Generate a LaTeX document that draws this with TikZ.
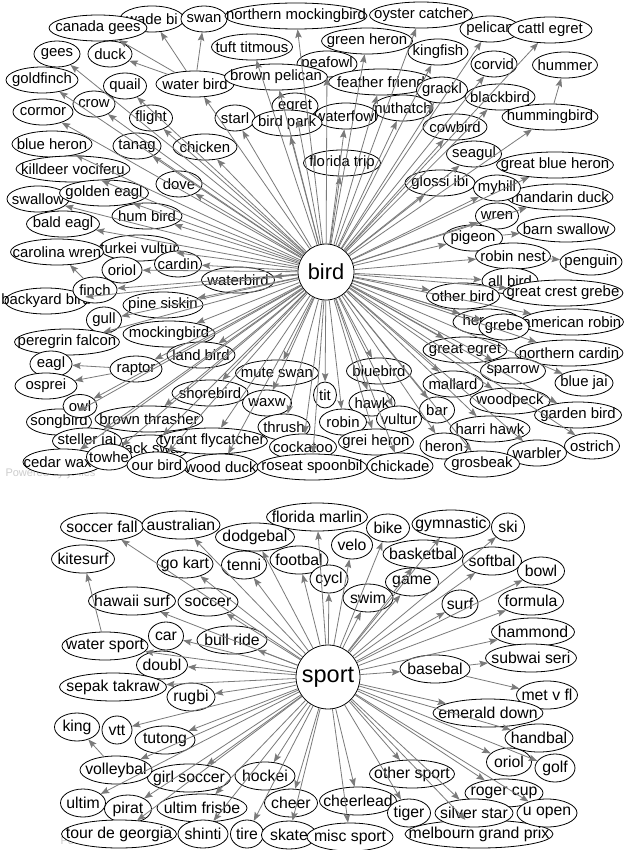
\documentclass[tikz,border=0pt]{standalone}
\usepackage{fontspec}
\setmainfont{Liberation Sans}
\usetikzlibrary{shapes.geometric,arrows.meta}
\definecolor{edgegray}{RGB}{122,122,122}
\definecolor{markgray}{RGB}{205,205,205}

\begin{document}
\begin{tikzpicture}[%
      x=1pt, y=-1pt,
      bub/.style={ellipse, draw=black, fill=white, line width=0.8pt, inner sep=0pt,
        minimum height=26, minimum width=#1, font=\fontsize{14.9}{16}\selectfont,
        execute at begin node={\hbox to 0pt\bgroup\hss},
        execute at end node={\hss\egroup}},
      sbub/.style={bub=#1, minimum height=28, font=\fontsize{15.8}{17}\selectfont},
      hub/.style={circle, draw=black, fill=white, line width=0.8pt, inner sep=0pt,
        minimum size=#1},
      link/.style={draw=edgegray, line width=0.8pt,
        -{Stealth[length=8.5pt, width=6.5pt, inset=1.5pt]}},
      wmark/.style={text=markgray, anchor=west, font=\fontsize{11}{12}\selectfont},
      ]
      \useasboundingbox (0,0) rectangle (624,850);
      \fill[white] (0,0) rectangle (624,850);

      % watermarks
      \node[wmark] (wm1) at (2,474) {Powered by yFiles};
      \node[wmark] (wm2) at (57,842) {Powered by yFiles};

      % ---------------- bird ----------------
      \node[bub=64] (wadebird) at (152,19) {wade bi};
      \node[bub=46] (swan) at (204,19) {swan};
      \node[bub=98] (canadagees) at (98,28) {canada gees};
      \node[bub=142] (northernmock) at (296,16) {northern mockingbird};
      \node[bub=103] (oyster) at (421,15) {oyster catcher};
      \node[bub=60] (pelican) at (490,29) {pelican};
      \node[bub=84] (cattlegret) at (550,30) {cattl egret};
      \node[bub=46] (gees) at (57,54) {gees};
      \node[bub=44] (duck) at (110,54) {duck};
      \node[bub=81] (tuft) at (252,47) {tuft titmous};
      \node[bub=91] (greenheron) at (367,41) {green heron};
      \node[bub=60] (kingfish) at (438,52) {kingfish};
      \node[bub=46] (corvid) at (494,64) {corvid};
      \node[bub=65] (hummer) at (565,65) {hummer};
      \node[bub=60] (peafowl) at (327,64) {peafowl};
      \node[bub=72] (goldfinch) at (42,80) {goldfinch};
      \node[bub=43] (quail) at (125,86) {quail};
      \node[bub=78] (waterbirda) at (195,84) {water bird};
      \node[bub=103] (brownpelican) at (276,77) {brown pelican};
      \node[bub=60] (nuthatch) at (403,108) {nuthatch};
      \node[bub=105] (feather) at (381,82) {feather friend};
      \node[bub=51] (grackl) at (442,90) {grackl};
      \node[bub=70] (blackbird) at (500,97) {blackbird};
      \node[bub=42] (crow) at (94,104) {crow};
      \node[bub=43] (flight) at (151,118) {flight};
      \node[bub=60] (cormor) at (43,112) {cormor};
      \node[bub=40] (starl) at (235,118) {starl};
      \node[bub=63] (waterfowl) at (346,116) {waterfowl};
      \node[bub=46] (egret) at (295,106) {egret};
      \node[bub=70] (birdpark) at (287,123) {bird park};
      \node[bub=96] (hummingbird) at (550,117) {hummingbird};
      \node[bub=64] (cowbird) at (455,127) {cowbird};
      \node[bub=80] (blueheron) at (52,144) {blue heron};
      \node[bub=48] (tanag) at (137,146) {tanag};
      \node[bub=64] (chicken) at (205,147) {chicken};
      \node[bub=55] (seagul) at (474,154) {seagul};
      \node[bub=77] (floridatrip) at (342,163) {florida trip};
      \node[bub=117] (greatblueheron) at (555,165) {great blue heron};
      \node[bub=114] (killdeer) at (73,169) {killdeer vociferu};
      \node[bub=70] (glossi) at (440,183) {glossi ibi};
      \node[bub=106] (mandarin) at (560,197) {mandarin duck};
      \node[bub=47] (myhill) at (497,188) {myhill};
      \node[bub=46] (dove) at (179,184) {dove};
      \node[bub=62] (swallow) at (38,199) {swallow};
      \node[bub=89] (goldeneagl) at (104,193) {golden eagl};
      \node[bub=70] (humbird) at (147,216) {hum bird};
      \node[bub=73] (baldeagl) at (63,224) {bald eagl};
      \node[bub=43] (wren) at (497,216) {wren};
      \node[bub=98] (barnswallow) at (566,229) {barn swallow};
      \node[bub=59] (pigeon) at (473,238) {pigeon};
      \node[bub=79] (turkei) at (139,248) {turkei vultur};
      \node[bub=93] (carolina) at (57,252) {carolina wren};
      \node[bub=47] (cardin) at (178,264) {cardin};
      \node[bub=40] (oriola) at (122,270) {oriol};
      \node[bub=75] (robinnest) at (513,256) {robin nest};
      \node[bub=62] (penguin) at (591,262) {penguin};
      \node[bub=73] (waterbirdb) at (238,280) {waterbird};
      \node[bub=56] (allbird) at (510,281) {all bird};
      \node[bub=82] (backyard) at (46,301) {backyard bird};
      \node[bub=44] (finch) at (95,290) {finch};
      \node[bub=80] (pinesiskin) at (163,305) {pine siskin};
      \node[bub=73] (otherbird) at (463,296) {other bird};
      \node[bub=120] (greatcrest) at (563,293) {great crest grebe};
      \node[bub=35] (gull) at (104,320) {gull};
      \node[bub=68] (hergull) at (487,322) {her gull};
      \node[bub=103] (amrobin) at (572,322) {american robin};
      \node[bub=50] (grebe) at (504,327) {grebe};
      \node[bub=92] (mockingbird) at (169,334) {mockingbird};
      \node[bub=105] (peregrin) at (67,342) {peregrin falcon};
      \node[bub=84] (greategret) at (465,350) {great egret};
      \node[bub=108] (ncardin) at (569,353) {northern cardin};
      \node[bub=42] (eagl) at (51,364) {eagl};
      \node[bub=68] (landbird) at (201,355) {land bird};
      \node[bub=52] (raptor) at (136,369) {raptor};
      \node[bub=83] (muteswan) at (277,373) {mute swan};
      \node[bub=65] (bluebird) at (379,371) {bluebird};
      \node[bub=65] (sparrow) at (513,371) {sparrow};
      \node[bub=58] (bluejai) at (584,383) {blue jai};
      \node[bub=60] (mallard) at (453,384) {mallard};
      \node[bub=62] (osprei) at (46,386) {osprei};
      \node[bub=76] (shorebird) at (210,393) {shorebird};
      \node[bub=23] (tit) at (325,395) {tit};
      \node[bub=49] (waxw) at (267,403) {waxw};
      \node[bub=46] (hawk) at (372,403) {hawk};
      \node[bub=80] (woodpeck) at (510,401) {woodpeck};
      \node[bub=35] (bar) at (437,410) {bar};
      \node[bub=87] (gardenbird) at (578,415) {garden bird};
      \node[bub=65] (songbird) at (59,422) {songbird};
      \node[bub=34, minimum height=23] (owl) at (80,406) {owl};
      \node[bub=108] (brownthrasher) at (149,419) {brown thrasher};
      \node[bub=52] (thrush) at (284,427) {thrush};
      \node[bub=47] (robin) at (343,422) {robin};
      \node[bub=45] (vultur) at (399,419) {vultur};
      \node[bub=80] (harrihawk) at (490,429) {harri hawk};
      \node[bub=78] (blackswan) at (150,448) {black swan};
      \node[bub=69] (steller) at (87,441) {steller jai};
      \node[bub=111] (tyrant) at (212,441) {tyrant flycatcher};
      \node[bub=67] (cockatoo) at (303,447) {cockatoo};
      \node[bub=75] (greiheron) at (376,442) {grei heron};
      \node[bub=48] (heron) at (444,446) {heron};
      \node[bub=55] (ostrich) at (592,446) {ostrich};
      \node[bub=59] (warbler) at (537,453) {warbler};
      \node[bub=80] (cedar) at (63,462) {cedar waxw};
      \node[bub=45] (towhe) at (109,457) {towhe};
      \node[bub=74] (woodduck) at (221,467) {wood duck};
      \node[bub=60] (ourbird) at (157,465) {our bird};
      \node[bub=110] (roseat) at (312,467) {roseat spoonbil};
      \node[bub=66] (chickade) at (400,466) {chickade};
      \node[bub=75] (grosbeak) at (482,464) {grosbeak};
      \node[hub=56, font=\fontsize{21.8}{24}\selectfont] (bird) at (326,272) {bird};

      \foreach \n in {northernmock, oyster, pelican, cattlegret, gees, tuft, greenheron,
          kingfish, corvid, peafowl, goldfinch, quail, waterbirda, brownpelican, nuthatch,
          feather, grackl, blackbird, crow, flight, cormor, starl, waterfowl, egret,
          birdpark, hummingbird, cowbird, blueheron, tanag, chicken, seagul, floridatrip,
          greatblueheron, killdeer, glossi, mandarin, myhill, dove, swallow, goldeneagl,
          humbird, baldeagl, wren, pigeon, turkei, cardin, oriola, robinnest, waterbirdb,
          allbird, backyard, finch, pinesiskin, otherbird, greatcrest, gull, hergull,
          amrobin, grebe, mockingbird, peregrin, greategret, ncardin, landbird, raptor,
          muteswan, bluebird, sparrow, bluejai, mallard, shorebird, tit, waxw, hawk,
          woodpeck, bar, gardenbird, songbird, owl, brownthrasher, thrush, robin, vultur,
          harrihawk, blackswan, steller, tyrant, cockatoo, greiheron, heron, ostrich,
          warbler, cedar, towhe, woodduck, ourbird, roseat, chickade, grosbeak}
        \draw[link] (bird) -- (\n);
      \foreach \n in {wadebird, swan, canadagees, duck}
        \draw[link] (waterbirda) -- (\n);
      \draw[link] (hummingbird) -- (hummer);
      \draw[link] (robinnest) -- (penguin);
      \draw[link] (pigeon) -- (barnswallow);
      \draw[link] (raptor) -- (eagl);
      \draw[link] (raptor) -- (osprei);
      \draw[link] (finch) -- (carolina);

      % ---------------- sport ----------------
      \node[sbub=83] (soccerfall) at (102,527) {soccer fall};
      \node[sbub=78] (australian) at (181,525) {australian};
      \node[sbub=101] (floridamarlin) at (317,517) {florida marlin};
      \node[sbub=79] (dodgebal) at (255,537) {dodgebal};
      \node[sbub=43] (bike) at (388,528) {bike};
      \node[sbub=78] (gymnastic) at (451,524) {gymnastic};
      \node[sbub=33] (ski) at (508,527) {ski};
      \node[sbub=63] (kitesurf) at (83,559) {kitesurf};
      \node[sbub=56] (gokart) at (185,564) {go kart};
      \node[sbub=45] (tenni) at (244,565) {tenni};
      \node[sbub=58] (footbal) at (299,560) {footbal};
      \node[sbub=41] (velo) at (352,545) {velo};
      \node[sbub=80] (basketbal) at (423,554) {basketbal};
      \node[sbub=59] (softbal) at (492,561) {softbal};
      \node[sbub=47] (bowl) at (541,571) {bowl};
      \node[sbub=38] (cycl) at (329,579) {cycl};
      \node[sbub=53] (game) at (412,582) {game};
      \node[sbub=87] (hawaiisurf) at (132,601) {hawaii surf};
      \node[sbub=60] (soccer) at (208,602) {soccer};
      \node[sbub=50] (swim) at (368,598) {swim};
      \node[sbub=36] (surf) at (460,604) {surf};
      \node[sbub=65] (formula) at (531,601) {formula};
      \node[sbub=35] (car) at (166,636) {car};
      \node[sbub=70] (bullride) at (232,640) {bull ride};
      \node[sbub=86] (watersport) at (105,646) {water sport};
      \node[sbub=83] (hammond) at (533,632) {hammond};
      \node[sbub=51] (doubl) at (162,665) {doubl};
      \node[sbub=70] (basebal) at (435,669) {basebal};
      \node[sbub=91] (subwai) at (531,658) {subwai seri};
      \node[sbub=107] (sepak) at (113,687) {sepak takraw};
      \node[sbub=48] (rugbi) at (191,697) {rugbi};
      \node[sbub=61] (metvfl) at (547,695) {met v fl};
      \node[sbub=110] (emerald) at (488,713) {emerald down};
      \node[sbub=45] (king) at (77,727) {king};
      \node[sbub=30] (vtt) at (117,730) {vtt};
      \node[sbub=60] (tutong) at (165,740) {tutong};
      \node[sbub=68] (handbal) at (539,738) {handbal};
      \node[sbub=83] (girlsoccer) at (189,778) {girl soccer};
      \node[sbub=72] (volleybal) at (116,770) {volleybal};
      \node[sbub=45] (oriolb) at (509,762) {oriol};
      \node[sbub=40] (golf) at (555,768) {golf};
      \node[sbub=60] (hockei) at (265,776) {hockei};
      \node[sbub=85] (othersport) at (412,774) {other sport};
      \node[sbub=78] (rogercup) at (504,793) {roger cup};
      \node[sbub=45] (ultim) at (83,803) {ultim};
      \node[sbub=47] (pirat) at (128,809) {pirat};
      \node[sbub=90] (ultimfrisbe) at (202,808) {ultim frisbe};
      \node[sbub=53] (cheer) at (291,803) {cheer};
      \node[sbub=77] (cheerlead) at (358,801) {cheerlead};
      \node[sbub=43] (tiger) at (409,813) {tiger};
      \node[sbub=148] (melbourn) at (479,834) {melbourn grand prix};
      \node[sbub=78] (silverstar) at (474,813) {silver star};
      \node[sbub=60] (uopen) at (547,813) {u open};
      \node[sbub=50] (shinti) at (203,834) {shinti};
      \node[sbub=115] (tourdegeorgia) at (119,834) {tour de georgia};
      \node[sbub=33] (tire) at (247,834) {tire};
      \node[sbub=55] (skate) at (289,835) {skate};
      \node[sbub=86] (miscsport) at (350,837) {misc sport};
      \node[hub=64, font=\fontsize{23.5}{26}\selectfont] (sport) at (328,677) {sport};

      \foreach \n in {soccerfall, australian, floridamarlin, dodgebal, bike, gymnastic, ski,
          gokart, tenni, footbal, velo, basketbal, softbal, bowl, cycl, game, hawaiisurf,
          soccer, swim, surf, formula, car, bullride, watersport, hammond, doubl, basebal,
          sepak, rugbi, emerald, vtt, tutong, handbal, volleybal, girlsoccer, oriolb, golf,
          hockei, othersport, rogercup, ultim, pirat, ultimfrisbe, cheer, cheerlead, tiger,
          silverstar, uopen, tourdegeorgia, shinti, tire, skate, miscsport, melbourn}
        \draw[link] (sport) -- (\n);
      \draw[link] (watersport) -- (kitesurf);
      \draw[link] (volleybal) -- (king);
      \draw[link] (basebal) -- (subwai);
      \draw[link] (basebal) -- (metvfl);
\end{tikzpicture}
\end{document}
